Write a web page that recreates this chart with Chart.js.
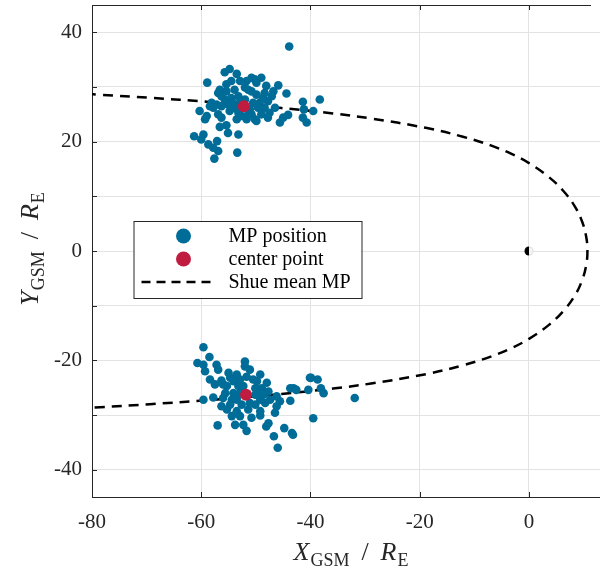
<!DOCTYPE html>
<html>
<head>
<meta charset="utf-8">
<script src="https://cdn.jsdelivr.net/npm/chart.js@4.4.1/dist/chart.umd.min.js"></script>
<style>
  html, body { margin: 0; padding: 0; background: #fff; }
  #wrap { width: 600px; height: 569px; }
</style>
</head>
<body>
<div id="wrap"><canvas id="mpChart" width="600" height="569"></canvas></div>
<script>
// Magnetopause crossings (X, Y in Earth radii, GSM)
const mpNorth = [
  [-43.9, 37.4], [-55.7, 32.7], [-54.8, 33.3], [-53.5, 32.4], [-58.9, 30.8], [-54.5, 31.1],
  [-52.9, 31.1], [-51.7, 31.1], [-50.2, 31.4], [-49.0, 31.7], [-49.9, 30.8], [-56.6, 29.5],
  [-56.9, 28.9], [-55.4, 29.2], [-53.9, 29.5], [-51.4, 29.5], [-48.1, 30.2], [-45.9, 30.3],
  [-46.8, 29.2], [-44.4, 28.8], [-49.9, 28.6], [-48.4, 28.9], [-55.7, 27.7], [-54.5, 28.0],
  [-53.2, 28.3], [-58.1, 27.1], [-57.2, 26.8], [-57.8, 26.2], [-56.3, 26.5], [-55.1, 26.8],
  [-53.9, 26.2], [-50.5, 27.1], [-49.3, 27.1], [-47.8, 27.4], [-49.6, 26.2], [-48.4, 26.2],
  [-46.5, 26.2], [-41.4, 27.3], [-38.3, 27.7], [-41.2, 25.9], [-39.5, 25.6], [-60.3, 25.6],
  [-59.0, 24.7], [-59.3, 24.1], [-56.3, 24.4], [-53.5, 24.1], [-51.7, 24.1], [-50.2, 24.1],
  [-47.8, 24.4], [-45.6, 23.5], [-45.0, 24.4], [-44.1, 24.9], [-41.4, 24.4], [-40.7, 23.5],
  [-56.6, 22.7], [-55.4, 23.0], [-55.1, 21.6], [-53.2, 21.3], [-61.3, 21.0], [-59.6, 21.3],
  [-60.0, 20.4], [-58.7, 19.5], [-57.1, 20.1], [-57.8, 18.9], [-56.9, 18.3], [-57.6, 16.9],
  [-53.4, 18.0], [-52.0, 27.7], [-51.1, 25.9], [-52.6, 24.7], [-54.8, 25.6], [-50.8, 25.0],
  [-49.0, 25.0], [-56.9, 25.0], [-58.4, 26.5], [-47.1, 28.3], [-55.4, 30.5], [-52.0, 29.9],
  [-50.8, 29.2], [-54.2, 27.1], [-52.9, 27.1], [-48.7, 28.0], [-56.3, 28.3], [-53.2, 25.3],
  [-51.4, 25.0], [-49.9, 23.8], [-47.5, 25.3], [-50.8, 31.7]
];
const mpSouth = [
  [-59.6, -17.6], [-58.5, -19.4], [-60.7, -20.5], [-59.6, -20.8], [-59.3, -22.0], [-57.2, -20.8],
  [-56.9, -21.7], [-52.0, -20.2], [-52.0, -21.1], [-51.1, -21.7], [-55.0, -22.3], [-53.5, -22.6],
  [-49.2, -22.6], [-58.4, -23.5], [-56.3, -23.7], [-54.1, -23.8], [-52.9, -23.5], [-49.8, -23.8],
  [-48.0, -24.1], [-57.5, -24.4], [-55.3, -24.7], [-53.2, -24.7], [-50.1, -25.1], [-48.9, -25.1],
  [-47.7, -25.7], [-43.7, -25.1], [-42.6, -25.4], [-40.4, -25.4], [-40.1, -23.2], [-55.6, -26.0],
  [-54.1, -26.0], [-46.2, -26.6], [-59.6, -27.2], [-57.8, -26.8], [-56.0, -26.9], [-54.4, -27.2],
  [-49.2, -27.2], [-47.4, -27.2], [-56.3, -28.4], [-54.7, -28.1], [-52.6, -28.1], [-50.1, -28.1],
  [-48.3, -27.8], [-45.6, -27.5], [-46.2, -28.4], [-55.3, -29.0], [-53.5, -29.3], [-51.4, -29.0],
  [-49.2, -29.3], [-46.5, -29.6], [-54.4, -30.2], [-52.9, -30.2], [-50.8, -30.5], [-49.2, -30.1],
  [-53.8, -31.8], [-52.3, -31.8], [-57.0, -31.9], [-47.7, -31.5], [-48.1, -32.1], [-51.7, -32.9],
  [-44.8, -32.4], [-46.7, -33.9], [-43.2, -33.6], [-46.0, -36.0], [-52.9, -26.0], [-50.1, -26.3],
  [-54.7, -23.2], [-51.7, -23.0], [-50.5, -23.5], [-49.5, -26.0], [-53.5, -27.2], [-51.1, -27.8],
  [-56.0, -24.4], [-48.6, -26.3], [-52.3, -24.7], [-43.1, -25.1], [-43.7, -27.4], [-39.9, -23.2],
  [-38.7, -23.5], [-38.1, -25.1], [-37.6, -26.0], [-31.9, -26.9], [-39.5, -30.6], [-43.4, -33.3]
];
const centerPoints = [[-52.2, 26.5], [-51.8, -26.3]];

// Shue model magnetopause, traced from the far tail round the nose and back
const shueX = [-81.1, -78.5, -69.4, -58.5, -45.3, -35.9, -28.9, -18.9, -12.1, -7.0, -3.1, 0.0,
               3.6, 6.3, 8.3, 9.65, 10.44, 10.7, 10.44, 9.65, 8.3, 6.3, 3.6, 0.0, -3.1, -7.0,
               -12.1, -18.9, -28.9, -35.9, -45.3, -58.5, -69.4, -78.5, -81.1];
const shueY = [28.72, 28.58, 28.02, 27.27, 26.15, 25.16, 24.24, 22.53, 20.91, 19.31, 17.71, 16.07,
               13.56, 10.97, 8.3, 5.57, 2.8, 0.0, -2.8, -5.57, -8.3, -10.97, -13.56, -16.07, -17.71,
               -19.31, -20.91, -22.53, -24.24, -25.16, -26.15, -27.27, -28.02, -28.58, -28.72];

const earth = [0, 0];

const xTickValues = [-80, -60, -40, -20, 0];
const yGridValues = [-40, -30, -20, -10, 0, 10, 20, 30, 40];
const yTickLabels = [-40, -20, 0, 20, 40];

const legendLabels = ['MP position', 'center point', 'Shue mean MP'];

const blue = '#006c98';
const red = '#c01c3f';
const axisColor = '#262626';
const gridColor = '#e3e3e3';
const serif = '"Liberation Serif", "DejaVu Serif", serif';

const toPoints = arr => arr.map(p => ({ x: p[0], y: p[1] }));

// no extra room for edge labels, the plot box fills the canvas
function noPadding(s) {
  s.paddingTop = 0;
  s.paddingBottom = 0;
  s.paddingLeft = 0;
  s.paddingRight = 0;
}

// draws text made of runs (italic letters, upright subscripts)
function richWidth(ctx, parts) {
  let w = 0;
  parts.forEach(p => {
    ctx.font = (p.italic ? 'italic ' : '') + p.size + 'px ' + serif;
    w += ctx.measureText(p.text).width + (p.gap || 0);
  });
  return w;
}
function drawRich(ctx, parts, cx, baseline) {
  let x = cx - richWidth(ctx, parts) / 2;
  ctx.textAlign = 'left';
  ctx.textBaseline = 'alphabetic';
  parts.forEach(p => {
    ctx.font = (p.italic ? 'italic ' : '') + p.size + 'px ' + serif;
    ctx.fillText(p.text, x, baseline + (p.dy || 0));
    x += ctx.measureText(p.text).width + (p.gap || 0);
  });
}

function axisTitle(letter) {
  return [
    { text: letter, italic: true, size: 26, gap: 1 },
    { text: 'GSM', size: 18, dy: 6, gap: 12 },
    { text: '/', size: 26, gap: 12 },
    { text: 'R', italic: true, size: 26, gap: 1 },
    { text: 'E', size: 18, dy: 6 }
  ];
}

const decorPlugin = {
  id: 'mpDecor',
  afterDraw(chart) {
    const ctx = chart.ctx;
    const area = chart.chartArea;
    const xs = chart.scales.x;
    const ys = chart.scales.y;
    ctx.save();

    // top edge of the axes box
    ctx.strokeStyle = axisColor;
    ctx.lineWidth = 1;
    ctx.beginPath();
    ctx.moveTo(area.left, area.top + 0.5);
    ctx.lineTo(area.right - 9, area.top + 0.5);
    ctx.stroke();

    // inward tick marks
    ctx.beginPath();
    xTickValues.forEach(v => {
      const px = Math.round(xs.getPixelForValue(v)) + 0.5;
      ctx.moveTo(px, area.bottom);
      ctx.lineTo(px, area.bottom - 5);
      ctx.moveTo(px, area.top);
      ctx.lineTo(px, area.top + 5);
    });
    yGridValues.forEach(v => {
      const py = Math.round(ys.getPixelForValue(v)) + 0.5;
      ctx.moveTo(area.left, py);
      ctx.lineTo(area.left + 5, py);
    });
    ctx.stroke();

    // Earth: night side dark, day side light
    const ex = xs.getPixelForValue(earth[0]);
    const ey = ys.getPixelForValue(earth[1]);
    ctx.fillStyle = '#dcdcdc';
    ctx.beginPath();
    ctx.arc(ex, ey, 4.5, 0, Math.PI * 2);
    ctx.fill();
    ctx.fillStyle = '#f4f4f4';
    ctx.beginPath();
    ctx.arc(ex + 0.5, ey, 3.2, 0, Math.PI * 2);
    ctx.fill();
    ctx.fillStyle = '#000';
    ctx.beginPath();
    ctx.arc(ex, ey, 4.5, Math.PI / 2, Math.PI * 1.5);
    ctx.closePath();
    ctx.fill();

    // legend box
    const lx = area.left + 41.5, ly = area.top + 216;
    const lw = 228, lh = 77;
    ctx.fillStyle = '#fff';
    ctx.fillRect(lx, ly, lw, lh);
    ctx.strokeStyle = axisColor;
    ctx.lineWidth = 1;
    ctx.strokeRect(lx + 0.5, ly + 0.5, lw, lh);

    const rowY = [ly + 15, ly + 38, ly + 61];
    ctx.fillStyle = blue;
    ctx.beginPath();
    ctx.arc(lx + 50, rowY[0], 7.5, 0, Math.PI * 2);
    ctx.fill();
    ctx.fillStyle = red;
    ctx.beginPath();
    ctx.arc(lx + 50, rowY[1], 7.5, 0, Math.PI * 2);
    ctx.fill();
    ctx.strokeStyle = '#000';
    ctx.lineWidth = 2.5;
    ctx.setLineDash([9, 6]);
    ctx.beginPath();
    ctx.moveTo(lx + 8, rowY[2]);
    ctx.lineTo(lx + 83, rowY[2]);
    ctx.stroke();
    ctx.setLineDash([]);

    ctx.fillStyle = '#000';
    ctx.font = '20px ' + serif;
    ctx.textAlign = 'left';
    ctx.textBaseline = 'middle';
    legendLabels.forEach((t, i) => ctx.fillText(t, lx + 95, rowY[i] + 1));

    // axis titles
    ctx.fillStyle = axisColor;
    drawRich(ctx, axisTitle('X'), 351, 560);

    ctx.translate(38, 249);
    ctx.rotate(-Math.PI / 2);
    drawRich(ctx, axisTitle('Y'), 0, 0);

    ctx.restore();
  }
};

const ctx = document.getElementById('mpChart').getContext('2d');
const mpChart = new Chart(ctx, {
  type: 'scatter',
  data: {
    datasets: [
      {
        label: 'center point',
        data: toPoints(centerPoints),
        backgroundColor: red,
        borderWidth: 0,
        pointRadius: 6,
        order: 0
      },
      {
        label: 'MP position',
        data: toPoints(mpNorth.concat(mpSouth)),
        backgroundColor: blue,
        borderWidth: 0,
        pointRadius: 4.3,
        order: 1
      },
      {
        label: 'Shue mean MP',
        type: 'line',
        data: shueX.map((x, i) => ({ x: x, y: shueY[i] })),
        borderColor: '#000',
        borderWidth: 2.5,
        borderDash: [10, 7],
        pointRadius: 0,
        fill: false,
        tension: 0.4,
        order: 2
      }
    ]
  },
  options: {
    responsive: false,
    animation: false,
    devicePixelRatio: 1,
    layout: { autoPadding: false, padding: { top: 5, right: 0, left: 0, bottom: 0 } },
    plugins: {
      legend: { display: false },
      tooltip: { enabled: false }
    },
    scales: {
      x: {
        type: 'linear',
        min: -80,
        max: 13,
        afterBuildTicks: s => { s.ticks = xTickValues.map(v => ({ value: v })); },
        afterFit: s => { s.height = 72; noPadding(s); },
        grid: { color: gridColor, drawTicks: false },
        border: { display: true, color: axisColor, width: 1 },
        ticks: {
          font: { family: serif, size: 21 },
          color: axisColor,
          padding: 13,
          maxRotation: 0,
          callback: v => String(v)
        }
      },
      y: {
        type: 'linear',
        min: -45,
        max: 45,
        afterBuildTicks: s => { s.ticks = yGridValues.map(v => ({ value: v })); },
        afterFit: s => { s.width = 92; noPadding(s); },
        grid: { color: gridColor, drawTicks: false },
        border: { display: true, color: axisColor, width: 1 },
        ticks: {
          font: { family: serif, size: 21 },
          color: axisColor,
          padding: 10,
          callback: v => (yTickLabels.includes(v) ? String(v) : '')
        }
      }
    }
  },
  plugins: [decorPlugin]
});
</script>
</body>
</html>
